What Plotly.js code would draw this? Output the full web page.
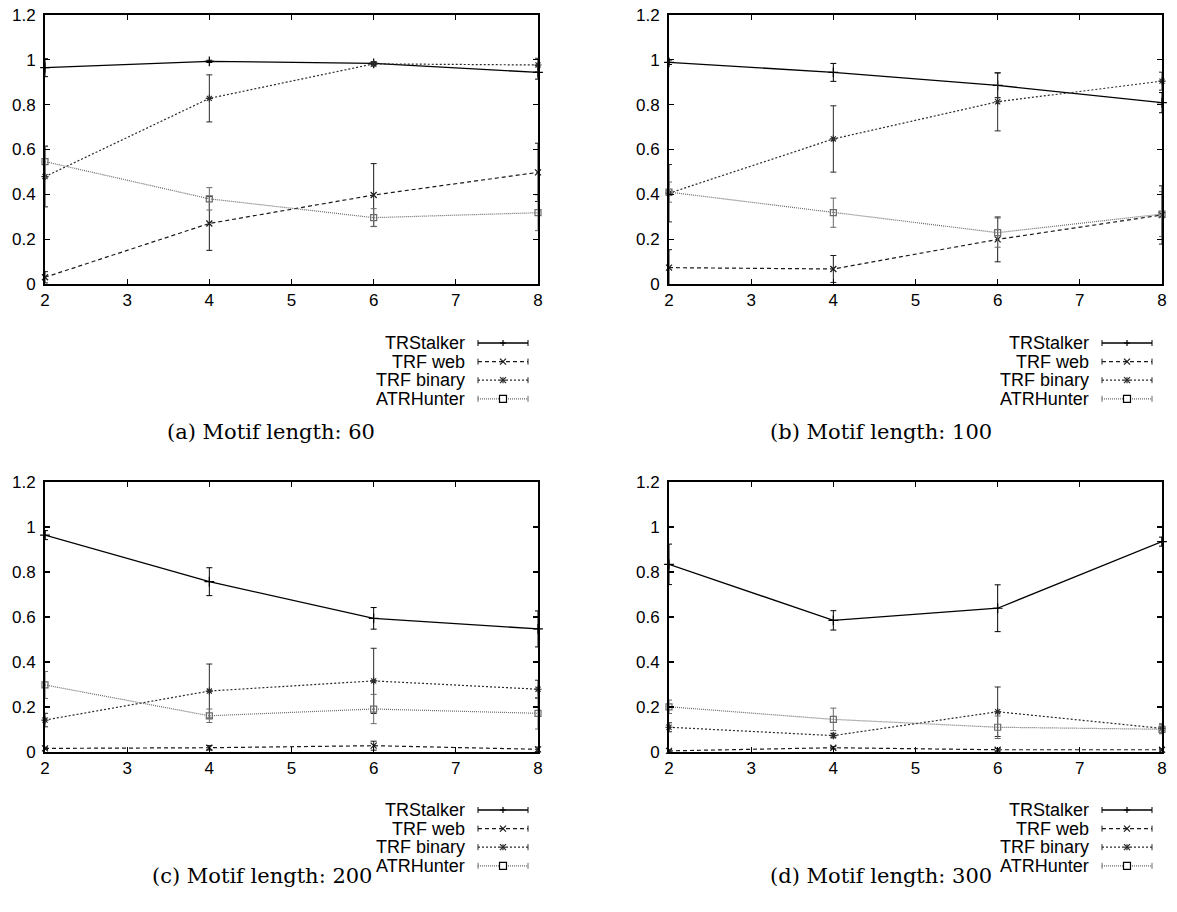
<!DOCTYPE html>
<html>
<head>
<meta charset="utf-8">
<script src="https://cdn.plot.ly/plotly-3.0.1.min.js"></script>
<style>html,body{margin:0;padding:0;background:#fff;}#chart{width:1177px;height:912px;}</style>
</head>
<body>
<div id="chart"></div>
<script>
// ---------- DATA ----------
const xValues = [2, 4, 6, 8];
const seriesNames = ["TRStalker", "TRF web", "TRF binary", "ATRHunter"];
const captions = ["(a) Motif length: 60", "(b) Motif length: 100", "(c) Motif length: 200", "(d) Motif length: 300"];
const yTickVals = [0, 0.2, 0.4, 0.6, 0.8, 1, 1.2];
const xTickVals = [2, 3, 4, 5, 6, 7, 8];

// (a) Motif length 60
const a_TRStalker = [0.965, 0.993, 0.984, 0.944];
const a_TRStalker_err = [0.04, 0.005, 0.005, 0.03];
const a_TRFweb = [0.03, 0.27, 0.397, 0.498];
const a_TRFweb_err = [0.025, 0.12, 0.14, 0.13];
const a_TRFbinary = [0.479, 0.828, 0.982, 0.977];
const a_TRFbinary_err = [0.135, 0.105, 0.01, 0.03];
const a_ATRHunter = [0.546, 0.38, 0.296, 0.318];
const a_ATRHunter_err = [0.07, 0.05, 0.04, 0.08];

// (b) Motif length 100
const b_TRStalker = [0.989, 0.944, 0.886, 0.809];
const b_TRStalker_err = [0.01, 0.04, 0.055, 0.045];
const b_TRFweb = [0.073, 0.067, 0.199, 0.308];
const b_TRFweb_err = [0.08, 0.06, 0.1, 0.13];
const b_TRFbinary = [0.405, 0.647, 0.813, 0.905];
const b_TRFbinary_err = [0.128, 0.148, 0.13, 0.04];
const b_ATRHunter = [0.41, 0.318, 0.229, 0.312];
const b_ATRHunter_err = [0.045, 0.065, 0.065, 0.1];

// (c) Motif length 200
const c_TRStalker = [0.964, 0.757, 0.594, 0.547];
const c_TRStalker_err = [0.02, 0.062, 0.048, 0.08];
const c_TRFweb = [0.016, 0.019, 0.028, 0.012];
const c_TRFweb_err = [0.005, 0.01, 0.02, 0.01];
const c_TRFbinary = [0.142, 0.271, 0.316, 0.279];
const c_TRFbinary_err = [0.03, 0.12, 0.145, 0.04];
const c_ATRHunter = [0.298, 0.161, 0.191, 0.172];
const c_ATRHunter_err = [0.06, 0.03, 0.065, 0.07];

// (d) Motif length 300
const d_TRStalker = [0.834, 0.585, 0.639, 0.935];
const d_TRStalker_err = [0.09, 0.043, 0.104, 0.02];
const d_TRFweb = [0.005, 0.019, 0.01, 0.01];
const d_TRFweb_err = [0.005, 0.005, 0.005, 0.005];
const d_TRFbinary = [0.110, 0.073, 0.179, 0.105];
const d_TRFbinary_err = [0.02, 0.01, 0.11, 0.02];
const d_ATRHunter = [0.201, 0.145, 0.11, 0.101];
const d_ATRHunter_err = [0.03, 0.05, 0.05, 0.02];

// ---------- STYLE / LAYOUT ----------
const W = 1177, H = 912;
const panels = [
  {L: 45,  R: 538,  T: 15,  B: 284, cap: 271, capY: 432,
   series: [[a_TRStalker, a_TRStalker_err], [a_TRFweb, a_TRFweb_err], [a_TRFbinary, a_TRFbinary_err], [a_ATRHunter, a_ATRHunter_err]]},
  {L: 669, R: 1162, T: 15,  B: 284, cap: 881, capY: 432,
   series: [[b_TRStalker, b_TRStalker_err], [b_TRFweb, b_TRFweb_err], [b_TRFbinary, b_TRFbinary_err], [b_ATRHunter, b_ATRHunter_err]]},
  {L: 45,  R: 538,  T: 482, B: 752, cap: 262, capY: 876,
   series: [[c_TRStalker, c_TRStalker_err], [c_TRFweb, c_TRFweb_err], [c_TRFbinary, c_TRFbinary_err], [c_ATRHunter, c_ATRHunter_err]]},
  {L: 669, R: 1162, T: 482, B: 752, cap: 881, capY: 876,
   series: [[d_TRStalker, d_TRStalker_err], [d_TRFweb, d_TRFweb_err], [d_TRFbinary, d_TRFbinary_err], [d_ATRHunter, d_ATRHunter_err]]}
];
const styles = [
  {color: "#000000", dash: "solid",   symbol: "cross-thin",   size: 7, width: 1.3},
  {color: "#1a1a1a", dash: "4px,3px", symbol: "x-thin",       size: 6, width: 1.2},
  {color: "#2a2a2a", dash: "2px,2px", symbol: "asterisk",     size: 6, width: 1.2},
  {color: "#6a6a6a", dash: "1px,1px", symbol: "square-open",  size: 6, width: 1.2}
];

const px = v => v / W;
const py = v => 1 - v / H;

const traces = [];
const layout = {
  width: W, height: H,
  margin: {l: 0, r: 0, t: 0, b: 0},
  paper_bgcolor: "#ffffff", plot_bgcolor: "#ffffff",
  showlegend: false,
  font: {family: "Liberation Sans, Arial, sans-serif", size: 17, color: "#000"},
  shapes: [], annotations: []
};

panels.forEach((p, i) => {
  const n = i === 0 ? "" : String(i + 1);
  const xa = "x" + n, ya = "y" + n;
  layout["xaxis" + n] = {
    domain: [px(p.L), px(p.R)], anchor: ya, range: [2, 8],
    tickvals: xTickVals, ticks: "inside", ticklen: 5, tickwidth: 1.3, tickcolor: "#000",
    showline: true, linewidth: 2, linecolor: "#000", mirror: "ticks",
    showgrid: false, zeroline: false, fixedrange: true,
    tickfont: {family: "Liberation Sans, Arial, sans-serif", size: 17, color: "#000"}
  };
  layout["yaxis" + n] = {
    domain: [py(p.B), py(p.T)], anchor: xa, range: [0, 1.2],
    tickvals: yTickVals, ticks: "inside", ticklen: 5, tickwidth: 1.3, tickcolor: "#000",
    showline: true, linewidth: 2, linecolor: "#000", mirror: "ticks",
    showgrid: false, zeroline: false, fixedrange: true, ticklabelstandoff: 4,
    tickfont: {family: "Liberation Sans, Arial, sans-serif", size: 17, color: "#000"}
  };
  p.series.forEach((s, k) => {
    const st = styles[k];
    traces.push({
      type: "scatter", mode: "lines+markers", name: seriesNames[k],
      x: xValues, y: s[0], xaxis: xa, yaxis: ya, cliponaxis: false,
      line: {color: st.color, dash: st.dash, width: st.width},
      marker: {symbol: st.symbol, size: st.size, color: st.color, line: {color: st.color, width: 1.2}},
      error_y: {type: "data", array: s[1], visible: true, color: st.color, thickness: 1, width: 3}
    });
  });

  // manual gnuplot-style legend (text, then sample)
  const textRight = p.R - 71, s0 = p.R - 60, s1 = p.R - 10, sm = (s0 + s1) / 2;
  seriesNames.forEach((name, k) => {
    const st = styles[k];
    const ry = p.T + 328 + k * 18.6;
    layout.annotations.push({
      xref: "paper", yref: "paper", x: px(textRight), y: py(ry), xanchor: "right", yanchor: "middle",
      text: name, showarrow: false, font: {family: "Liberation Sans, Arial, sans-serif", size: 18, color: "#000"}
    });
    const ln = {color: st.color, width: st.width, dash: st.dash};
    layout.shapes.push({type: "line", xref: "paper", yref: "paper", x0: px(s0), x1: px(s1), y0: py(ry), y1: py(ry), line: ln});
    layout.shapes.push({type: "line", xref: "paper", yref: "paper", x0: px(s0), x1: px(s0), y0: py(ry - 3), y1: py(ry + 3), line: {color: st.color, width: 1}});
    layout.shapes.push({type: "line", xref: "paper", yref: "paper", x0: px(s1), x1: px(s1), y0: py(ry - 3), y1: py(ry + 3), line: {color: st.color, width: 1}});
    const mk = {color: st.color, width: 1.2};
    const r = 3;
    if (k === 0 || k === 2) {
      layout.shapes.push({type: "line", xref: "paper", yref: "paper", x0: px(sm - r), x1: px(sm + r), y0: py(ry), y1: py(ry), line: mk});
      layout.shapes.push({type: "line", xref: "paper", yref: "paper", x0: px(sm), x1: px(sm), y0: py(ry - r), y1: py(ry + r), line: mk});
    }
    if (k === 1 || k === 2) {
      layout.shapes.push({type: "line", xref: "paper", yref: "paper", x0: px(sm - r), x1: px(sm + r), y0: py(ry - r), y1: py(ry + r), line: mk});
      layout.shapes.push({type: "line", xref: "paper", yref: "paper", x0: px(sm - r), x1: px(sm + r), y0: py(ry + r), y1: py(ry - r), line: mk});
    }
    if (k === 3) {
      layout.shapes.push({type: "rect", xref: "paper", yref: "paper", x0: px(sm - 3.5), x1: px(sm + 3.5), y0: py(ry - 3.5), y1: py(ry + 3.5), line: {color: "#000", width: 1.2}, fillcolor: "#fff"});
    }
  });

  layout.annotations.push({
    xref: "paper", yref: "paper", x: px(p.cap), y: py(p.capY), xanchor: "center", yanchor: "middle",
    text: captions[i], showarrow: false,
    font: {family: "DejaVu Serif, Liberation Serif, serif", size: 21, color: "#000"}
  });
});

Plotly.newPlot("chart", traces, layout, {displayModeBar: false, staticPlot: true});
</script>
</body>
</html>
